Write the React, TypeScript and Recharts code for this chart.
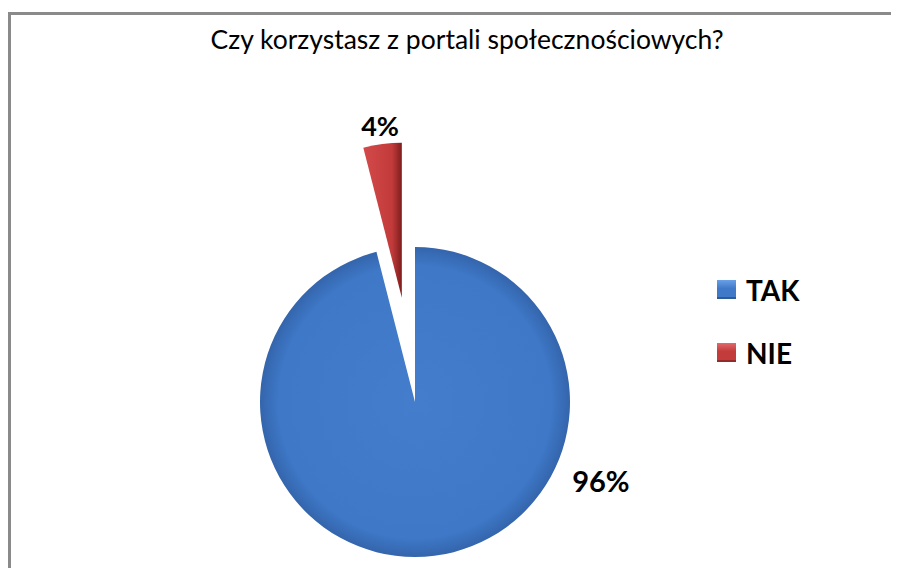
import { PieChart, Pie, Cell, Legend } from 'recharts';

const title = 'Czy korzystasz z portali społecznościowych?';
const categories = ['TAK', 'NIE'];
const values = [96, 4];
const colors = ['#3f79c8', '#c33b3b'];
const legendTops = ['#6aa0e8', '#e06a6a'];

const data = categories.map((name, i) => ({ name, value: values[i] }));

const RADIAN = Math.PI / 180;
const CX = 407;
const CY = 394;
const RADIUS = 155;
const EXPLODE = 105;
const START = 90;
const END = -270;

// mid angle of the NIE slice, used to pull it out of the pie
const nieMid = START - ((values[0] + values[1] / 2) / (values[0] + values[1])) * 360 + 360;
const redCx = CX + EXPLODE * Math.cos(nieMid * RADIAN);
const redCy = CY - EXPLODE * Math.sin(nieMid * RADIAN);

const labelFont = '"Lato", "Liberation Sans", sans-serif';

const renderTakLabel = (props: any) => {
  if (props.index !== 0) return null;
  const angle = -23;
  const r = props.outerRadius + 47;
  const x = props.cx + r * Math.cos(angle * RADIAN);
  const y = props.cy - r * Math.sin(angle * RADIAN);
  return (
    <text x={x} y={y} fill="#000" textAnchor="middle" dominantBaseline="central"
      fontFamily={labelFont} fontWeight={700} fontSize={29}>
      {`${Math.round(props.percent * 100)}%`}
    </text>
  );
};

const renderNieLabel = (props: any) => {
  if (props.index !== 1) return null;
  const r = props.outerRadius + 19;
  const x = props.cx + r * Math.cos(props.midAngle * RADIAN);
  const y = props.cy - r * Math.sin(props.midAngle * RADIAN);
  return (
    <text x={x} y={y} fill="#000" textAnchor="middle" dominantBaseline="central"
      fontFamily={labelFont} fontWeight={700} fontSize={27}>
      {`${Math.round(props.percent * 100)}%`}
    </text>
  );
};

const renderLegend = () => (
  <div style={{ fontFamily: labelFont }}>
    {categories.map((c, i) => (
      <div key={c} style={{ display: 'flex', alignItems: 'center', height: 63 }}>
        <div
          style={{
            width: 19,
            height: 19,
            background: `linear-gradient(${legendTops[i]} 0%, ${colors[i]} 45%, ${colors[i]} 100%)`,
            boxShadow: 'inset 0 -2px 0 rgba(0,0,0,0.25)',
            marginRight: 10,
          }}
        />
        <span style={{ fontSize: 28, fontWeight: 700, color: '#000' }}>{c}</span>
      </div>
    ))}
  </div>
);

export default function App() {
  return (
    <div style={{ position: 'relative', width: 891, height: 560, overflow: 'hidden' }}>
      <div
        style={{
          position: 'absolute',
          left: 0,
          top: 4,
          width: 960,
          height: 700,
          borderTop: '3px solid #8a8a8a',
          borderLeft: '3px solid #8a8a8a',
          boxSizing: 'border-box',
        }}
      />
      <div
        style={{
          position: 'absolute',
          left: 0,
          top: 15,
          width: 918,
          textAlign: 'center',
          fontFamily: labelFont,
          fontSize: 26.5,
          color: '#000',
        }}
      >
        {title}
      </div>
      <div style={{ position: 'absolute', left: 0, top: 0 }}>
        <PieChart width={891} height={560} margin={{ top: 0, right: 0, bottom: 0, left: 0 }}>
          <defs>
            <radialGradient id="blueFill" cx="50%" cy="50%" r="50%">
              <stop offset="0%" stopColor="#437dcc" />
              <stop offset="88%" stopColor="#3e78c7" />
              <stop offset="100%" stopColor="#3465ac" />
            </radialGradient>
            <linearGradient id="redFill" x1="0" y1="0" x2="1" y2="0">
              <stop offset="0%" stopColor="#d44a4a" />
              <stop offset="75%" stopColor="#c23a3a" />
              <stop offset="100%" stopColor="#7e1c1c" />
            </linearGradient>
          </defs>
          <Pie
            data={data}
            dataKey="value"
            nameKey="name"
            cx={CX}
            cy={CY}
            outerRadius={RADIUS}
            startAngle={START}
            endAngle={END}
            stroke="none"
            label={renderTakLabel}
            labelLine={false}
            isAnimationActive={false}
          >
            <Cell fill="url(#blueFill)" />
            <Cell fill="none" />
          </Pie>
          <Pie
            data={data}
            dataKey="value"
            nameKey="name"
            cx={redCx}
            cy={redCy}
            outerRadius={RADIUS}
            startAngle={START}
            endAngle={END}
            stroke="none"
            label={renderNieLabel}
            labelLine={false}
            legendType="none"
            isAnimationActive={false}
          >
            <Cell fill="none" />
            <Cell fill="url(#redFill)" />
          </Pie>
          <Legend
            content={renderLegend}
            layout="vertical"
            wrapperStyle={{ left: 709, top: 250, width: 140 }}
          />
        </PieChart>
      </div>
    </div>
  );
}
